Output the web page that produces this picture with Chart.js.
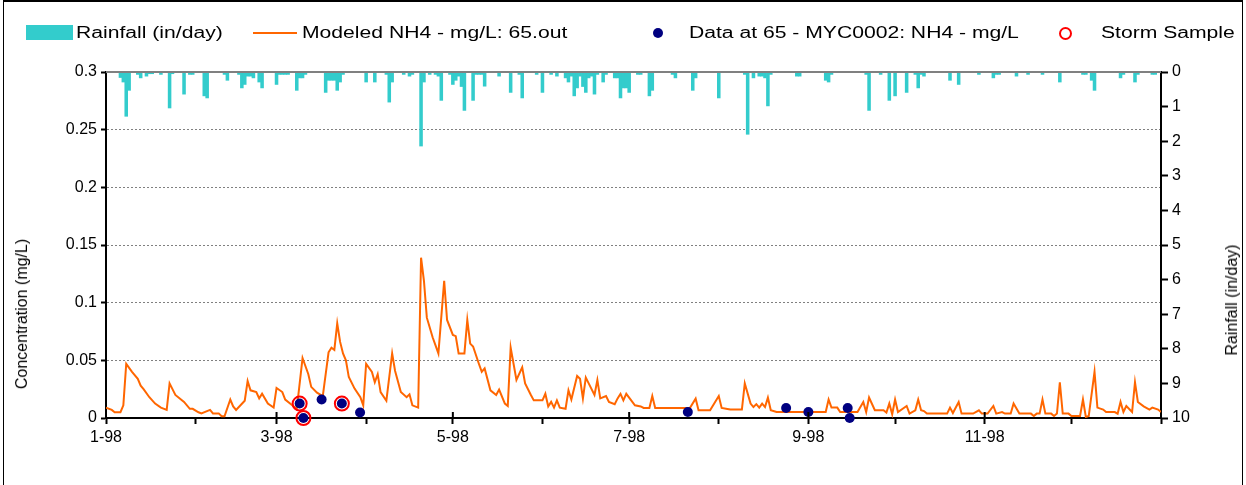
<!DOCTYPE html>
<html>
<head>
<meta charset="utf-8">
<script src="https://cdn.jsdelivr.net/npm/chart.js@4.4.1/dist/chart.umd.min.js"></script>
<style>
    body { margin: 0; background: #fff; font-family: "Liberation Sans", Arial, sans-serif; }
    #wrap { position: relative; width: 1246px; height: 485px; overflow: hidden; }
    #frame { position: absolute; left: 3px; top: 0; width: 1238px; height: 600px; border: 1px solid #000; border-top-width: 2px; }
    canvas { position: absolute; left: 0; top: 0; }
    .lg { position: absolute; top: 23px; font-size: 16px; line-height: 20px; white-space: nowrap; color: #000;
          transform: scaleX(1.32); transform-origin: 0 50%; }
    .sw { position: absolute; }
    .axt { position: absolute; font-size: 16px; white-space: nowrap; transform: translate(-50%, -50%) rotate(-90deg); }
</style>
</head>
<body>
<div id="wrap">
    <div id="frame"></div>
    <canvas id="chart" width="1246" height="485"></canvas>
    <div class="sw" style="left:26px;top:25px;width:47px;height:15px;background:#33CCCC"></div>
    <div class="lg" style="left:76px">Rainfall (in/day)</div>
    <div class="sw" style="left:253px;top:32px;width:44px;height:2px;background:#FF6600"></div>
    <div class="lg" style="left:302px">Modeled NH4 - mg/L: 65.out</div>
    <div class="sw" style="left:653px;top:28px;width:10px;height:10px;border-radius:50%;background:#000080"></div>
    <div class="lg" style="left:689px">Data at 65 - MYC0002: NH4 - mg/L</div>
    <div class="sw" style="left:1059px;top:27px;width:9px;height:9px;border-radius:50%;border:2px solid #FF0000"></div>
    <div class="lg" style="left:1101px">Storm Sample</div>
    <div class="axt" style="left:22px;top:314px">Concentration (mg/L)</div>
    <div class="axt" style="left:1232px;top:300px">Rainfall (in/day)</div>
</div>
<script>
// day 0 = 1 Jan 1998
const monthStarts = [0, 31, 59, 90, 120, 151, 181, 212, 243, 273, 304, 334, 365];
const monthLabels = ['1-98', '', '3-98', '', '5-98', '', '7-98', '', '9-98', '', '11-98', '', ''];

// modeled NH4 (mg/L), read at the turning points of the line
const modelDays = [0, 2, 3, 5, 6, 7, 9, 11, 12, 13, 15, 17, 19, 21, 22, 24, 27, 29, 30, 32, 33, 36, 37, 39, 40, 41,
    43, 44, 45, 48, 49, 50, 52, 53, 54, 56, 58, 59, 61, 62, 64, 66, 68, 70, 71, 73, 75, 77, 78, 79, 80, 81, 82, 83,
    84, 86, 88, 89, 90, 92, 93, 94, 95, 97, 99, 100, 102, 104, 105, 106, 108, 109, 110, 111, 113, 115, 117, 118, 120,
    121, 122, 124, 125, 126, 127, 129, 130, 131, 133, 135, 136, 138, 139, 140, 142, 144, 145, 147, 148, 151, 152, 153,
    154, 155, 156, 157, 159, 160, 161, 163, 164, 165, 166, 167, 169, 170, 171, 173, 174, 176, 177, 178, 179, 180, 183,
    185, 186, 188, 189, 190, 202, 204, 205, 209, 212, 213, 215, 216, 220, 221, 223, 224, 225, 226, 227, 228, 229, 230,
    232, 249, 250, 251, 253, 254, 260, 262, 263, 264, 266, 269, 270, 271, 272, 273, 274, 277, 278, 280, 281, 282, 283,
    284, 291, 292, 293, 295, 296, 300, 302, 303, 305, 307, 308, 310, 311, 313, 314, 316, 320, 321, 322, 323, 324, 325,
    327, 328, 329, 330, 331, 333, 334, 337, 338, 339, 340, 342, 343, 345, 346, 349, 350, 351, 352, 353, 355, 356, 357,
    359, 361, 362, 364, 365];
const modelNH4 = [0.009, 0.007, 0.005, 0.005, 0.011, 0.047, 0.040, 0.034, 0.028, 0.025, 0.018, 0.0125, 0.009, 0.007,
    0.030, 0.020, 0.014, 0.008, 0.008, 0.005, 0.004, 0.007, 0.004, 0.004, 0.0015, 0.0015,
    0.016, 0.010, 0.007, 0.015, 0.032, 0.024, 0.0225, 0.017, 0.021, 0.0125, 0.009, 0.026, 0.0225, 0.016, 0.012, 0.008,
    0.052, 0.038, 0.027, 0.022, 0.019, 0.057, 0.061, 0.059, 0.082, 0.066, 0.056, 0.050,
    0.0355, 0.0255, 0.018, 0.011, 0.047, 0.040, 0.031, 0.038, 0.0225, 0.015, 0.056, 0.041, 0.0225, 0.018, 0.0205, 0.011,
    0.009, 0.139, 0.119, 0.087, 0.070, 0.056, 0.119, 0.085, 0.072,
    0.071, 0.056, 0.056, 0.085, 0.0645, 0.062, 0.047, 0.040, 0.043, 0.024, 0.020, 0.0246, 0.0125, 0.0104, 0.061, 0.033,
    0.044, 0.030, 0.020, 0.0153, 0.0153, 0.021, 0.010,
    0.014, 0.009, 0.0153, 0.009, 0.008, 0.024, 0.016, 0.0364, 0.034, 0.017, 0.035, 0.030, 0.020, 0.033, 0.017, 0.019,
    0.014, 0.012, 0.017, 0.021, 0.0153, 0.021, 0.011,
    0.010, 0.0087, 0.0087, 0.019, 0.0087, 0.0087, 0.0168, 0.0067, 0.0067, 0.019, 0.0087, 0.0078, 0.0073, 0.0073, 0.030,
    0.0125, 0.0095, 0.012, 0.009, 0.0125, 0.0095, 0.0176, 0.0067,
    0.0052, 0.0052, 0.016, 0.009, 0.009, 0.0052, 0.0052, 0.0139, 0.0052, 0.0177, 0.0067, 0.0067, 0.0047, 0.0125, 0.0032,
    0.016, 0.0052, 0.0104, 0.0038, 0.0067, 0.016, 0.0067, 0.006,
    0.0038, 0.0038, 0.009, 0.0043, 0.0139, 0.0038, 0.0038, 0.0067, 0.0038, 0.0038, 0.0104, 0.0038, 0.0052, 0.0038,
    0.0038, 0.0125, 0.0038, 0.0038, 0.0017, 0.0038, 0.0038, 0.016, 0.0038,
    0.0038, 0.0017, 0.0038, 0.031, 0.0038, 0.0038, 0.0017, 0.0017, 0.016, 0.0009, 0.0017, 0.040, 0.009, 0.0073, 0.0052,
    0.0052, 0.0038, 0.0139, 0.0052, 0.0104, 0.0052, 0.031, 0.0139,
    0.0101, 0.0073, 0.009, 0.0073, 0.0052];

// observed NH4 samples
const sampleDays = [67, 68.3, 74.6, 81.6, 87.9, 201.3, 235.3, 243, 256.6, 257.3];
const sampleNH4 = [0.0125, 0.0, 0.016, 0.0125, 0.0047, 0.0052, 0.0087, 0.0052, 0.0087, 0.0];

// storm samples
const stormDays = [67, 68.3, 81.6];
const stormNH4 = [0.0125, 0.0, 0.0125];

// rainfall (in/day), days with rain only
const rainDays = [5, 6, 7, 8, 11, 12, 14, 15, 16, 19, 22, 23, 27, 29, 30, 34, 35, 41, 42, 46, 47, 48, 49, 50, 51, 53, 54,
    59, 60, 61, 62, 63, 66, 67, 68, 69, 76, 77, 78, 79, 80, 81, 82, 90, 93, 97, 98, 99, 103, 105, 106, 109, 110, 112,
    114, 115, 116, 119, 120, 121, 122, 123, 124, 127, 128, 129, 130, 131, 136, 140, 143, 144, 149, 151, 154, 156, 159,
    160, 161, 162, 163, 164, 165, 166, 167, 168, 169, 170, 172, 173, 176, 177, 178, 179, 180, 181, 184, 185, 188, 189,
    196, 197, 203, 204, 212, 221, 222, 224, 226, 227, 228, 229, 230, 239, 240, 249, 250, 251, 263, 264, 268, 271, 273,
    277, 280, 281, 282, 283, 292, 295, 302, 307, 308, 309, 315, 319, 324, 330, 338, 339, 341, 342, 351, 352, 356, 357,
    362, 363];
const rainInches = [0.16, 0.29, 1.28, 0.53, 0.07, 0.17, 0.12, 0.05, 0.05, 0.07, 1.04, 0.05, 0.64, 0.07, 0.07, 0.69, 0.75,
    0.07, 0.24, 0.07, 0.46, 0.36, 0.12, 0.12, 0.17, 0.29, 0.46,
    0.36, 0.07, 0.07, 0.07, 0.07, 0.53, 0.17, 0.17, 0.07, 0.59, 0.24, 0.24, 0.24, 0.53, 0.29, 0.07, 0.29, 0.29, 0.07,
    0.87, 0.29, 0.07, 0.12, 0.07, 2.14, 0.29, 0.07,
    0.07, 0.12, 0.82, 0.07, 0.36, 0.24, 0.12, 0.42, 1.11, 0.82, 0.07, 0.07, 0.07, 0.41, 0.12, 0.59, 0.07, 0.75, 0.07,
    0.59, 0.07, 0.12, 0.17,
    0.29, 0.12, 0.69, 0.46, 0.12, 0.42, 0.59, 0.17, 0.12, 0.64, 0.07, 0.29, 0.07, 0.17, 0.17, 0.75, 0.46, 0.46, 0.59,
    0.07, 0.07, 0.69, 0.53,
    0.07, 0.17, 0.53, 0.17, 0.75, 0.07, 1.80, 0.17, 0.12, 0.12, 0.17, 0.98, 0.07, 0.12, 0.12, 0.24, 0.29, 0.07, 0.07,
    1.11, 0.07, 0.82, 0.69,
    0.59, 0.07, 0.46, 0.07, 0.12, 0.24, 0.36, 0.07, 0.17, 0.07, 0.07, 0.12, 0.07, 0.07, 0.29, 0.07, 0.07, 0.24, 0.53,
    0.17, 0.07, 0.29, 0.07,
    0.07, 0.07];

const pairs = (xs, ys) => xs.map((x, i) => ({ x: x, y: ys[i] }));
const labelFont = { family: 'Liberation Sans, Arial, sans-serif', size: 16 };

// gray top edge and the inner half of the labelled month ticks
const framePlugin = {
    id: 'frame',
    afterDatasetsDraw(chart) {
        const { ctx, chartArea } = chart;
        const x = chart.scales.x;
        ctx.save();
        ctx.strokeStyle = '#808080';
        ctx.lineWidth = 2;
        ctx.beginPath();
        ctx.moveTo(chartArea.left, chartArea.top);
        ctx.lineTo(chartArea.right, chartArea.top);
        ctx.stroke();
        ctx.strokeStyle = '#000';
        monthStarts.forEach((d, i) => {
            if (!monthLabels[i]) return;
            const px = x.getPixelForValue(d);
            ctx.beginPath();
            ctx.moveTo(px, chartArea.bottom);
            ctx.lineTo(px, chartArea.bottom - 6);
            ctx.stroke();
        });
        ctx.restore();
    }
};

new Chart(document.getElementById('chart'), {
    data: {
        datasets: [{
            type: 'scatter',
            label: 'Storm Sample',
            data: pairs(stormDays, stormNH4),
            yAxisID: 'y',
            pointRadius: 7,
            pointBorderWidth: 2,
            pointBorderColor: '#FF0000',
            pointBackgroundColor: 'rgba(0,0,0,0)',
            clip: false,
            order: 0
        }, {
            type: 'scatter',
            label: 'Data at 65 - MYC0002: NH4 - mg/L',
            data: pairs(sampleDays, sampleNH4),
            yAxisID: 'y',
            pointRadius: 5,
            pointBorderWidth: 0,
            pointBackgroundColor: '#000080',
            clip: false,
            order: 1
        }, {
            type: 'line',
            label: 'Modeled NH4 - mg/L: 65.out',
            data: pairs(modelDays, modelNH4),
            yAxisID: 'y',
            borderColor: '#FF6600',
            borderWidth: 2,
            pointRadius: 0,
            tension: 0,
            order: 2
        }, {
            type: 'bar',
            label: 'Rainfall (in/day)',
            data: pairs(rainDays, rainInches),
            yAxisID: 'y2',
            backgroundColor: '#33CCCC',
            barPercentage: 1,
            categoryPercentage: 1,
            order: 3
        }]
    },
    options: {
        responsive: false,
        animation: false,
        layout: { padding: { top: 72 } },
        plugins: {
            legend: { display: false },
            tooltip: { enabled: false }
        },
        scales: {
            x: {
                type: 'linear',
                min: 0,
                max: 365,
                offset: false,
                afterBuildTicks: scale => { scale.ticks = monthStarts.map(v => ({ value: v })); },
                afterFit: scale => { scale.height = 67; },
                ticks: {
                    autoSkip: false,
                    maxRotation: 0,
                    padding: 4,
                    color: '#000',
                    font: labelFont,
                    callback: (value, index) => monthLabels[index]
                },
                grid: { offset: false, drawOnChartArea: false, tickLength: 6, tickColor: '#000', tickWidth: 2 },
                border: { color: '#000', width: 2 }
            },
            y: {
                position: 'left',
                min: 0,
                max: 0.3,
                afterFit: scale => { scale.width = 106; },
                ticks: {
                    stepSize: 0.05,
                    padding: 4,
                    color: '#000',
                    font: labelFont,
                    callback: v => String(Number(v.toFixed(2)))
                },
                grid: {
                    color: c => (c.tick && c.tick.value > 0 && c.tick.value < 0.29) ? '#808080' : 'rgba(0,0,0,0)',
                    lineWidth: 1,
                    tickLength: 5,
                    tickColor: '#000',
                    tickWidth: 2
                },
                border: { color: '#000', width: 2, dash: [2, 2] }
            },
            y2: {
                position: 'right',
                min: 0,
                max: 10,
                reverse: true,
                afterFit: scale => { scale.width = 85; },
                ticks: { stepSize: 1, padding: 4, color: '#000', font: labelFont },
                grid: { drawOnChartArea: false, tickLength: 7, tickColor: '#000', tickWidth: 2 },
                border: { color: '#000', width: 2 }
            }
        }
    },
    plugins: [framePlugin]
});
</script>
</body>
</html>
